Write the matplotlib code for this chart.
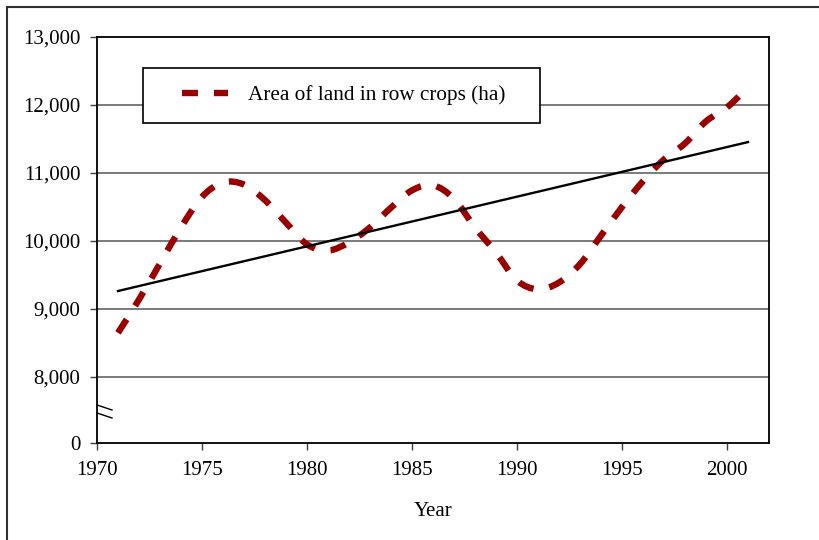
import numpy as np
import matplotlib
matplotlib.use('Agg')
import matplotlib.pyplot as plt
from matplotlib.path import Path
from matplotlib.patches import PathPatch, Rectangle
from matplotlib.lines import Line2D

# data
years = list(range(1971, 2002))
row_crops = [8650, 9140, 9670, 10200, 10650, 10860, 10830, 10600, 10270, 9950,
             9860, 9980, 10200, 10490, 10745, 10820, 10620, 10200, 9830, 9420,
             9290, 9390, 9660, 10080, 10500, 10880, 11200, 11435, 11760, 11965,
             12260]
trend_years = [1971, 2001]
trend_vals = [9265, 11455]

y_ticks = [7030, 8000, 9000, 10000, 11000, 12000, 13000]
y_labels = ['0', '8,000', '9,000', '10,000', '11,000', '12,000', '13,000']
x_ticks = [1970, 1975, 1980, 1985, 1990, 1995, 2000]

plt.rcParams['font.family'] = ['Liberation Serif', 'DejaVu Serif']
red = '#990000'
fs = 15
leg_fs = 15.3
px = leg_fs * 100 / 72


def smooth_path(xs, ys):
    # excel-like smoothed line: bezier segments through every point
    pts = np.column_stack([xs, ys]).astype(float)
    n = len(pts)
    verts = [pts[0]]
    codes = [Path.MOVETO]
    for i in range(n - 1):
        p0 = pts[i - 1] if i > 0 else pts[i]
        p1 = pts[i]
        p2 = pts[i + 1]
        p3 = pts[i + 2] if i + 2 < n else pts[i + 1]
        c1 = p1 + (p2 - p0) / 6.0
        c2 = p2 - (p3 - p1) / 6.0
        verts += [c1, c2, p2]
        codes += [Path.CURVE4] * 3
    return Path(verts, codes)


fig = plt.figure(figsize=(8.2, 5.4), dpi=100)
ax = fig.add_axes([97/820, 1-443/540, 672/820, 406/540])

for v in y_ticks[1:-1]:
    ax.axhline(v, color='#707070', lw=1.3, zorder=1)

dash = (0, (2.5, 2.5))
patch = PathPatch(smooth_path(years, row_crops), facecolor='none', edgecolor=red,
                  lw=4.6, linestyle=dash, capstyle='butt', zorder=3)
ax.add_patch(patch)
ax.plot(trend_years, trend_vals, color='black', lw=1.7, zorder=4)

ax.set_xlim(1970, 2002)
ax.set_ylim(7030, 13000)
ax.set_xticks(x_ticks)
ax.set_yticks(y_ticks)
ax.set_yticklabels(y_labels)
ax.tick_params(axis='both', direction='out', length=5, width=1, labelsize=fs, pad=8,
               color='#404040')
ax.tick_params(axis='y', pad=7)
for s in ax.spines.values():
    s.set_linewidth(1.3)
    s.set_color('black')
ax.set_xlabel('Year', fontsize=fs, labelpad=16)

# axis break marks
for y0 in (405, 413):
    ax.plot([0, 15/672], [(443-y0)/406, (443-y0-5)/406], color='black', lw=1,
            transform=ax.transAxes, clip_on=False)

# legend
handle = Line2D([], [], color=red, lw=4.6, linestyle=dash, dash_capstyle='butt')
leg = ax.legend([handle], ['Area of land in row crops (ha)'], loc='center left',
                bbox_to_anchor=(182/820, 1-95.5/540), bbox_transform=fig.transFigure,
                frameon=False, fontsize=leg_fs, borderpad=0, borderaxespad=0,
                handlelength=46/px, handletextpad=20/px)
leg.set_zorder(6)
ax.add_patch(Rectangle((143/820, 1-123/540), 397/820, 55/540, transform=fig.transFigure,
                       facecolor='white', edgecolor='black', lw=1.2, zorder=5,
                       clip_on=False))

# outer border
fig.patches.append(Rectangle((7/820, -0.1), 1.2, (533/540)+0.1, transform=fig.transFigure,
                             facecolor='none', edgecolor='#303030', lw=1.5))

fig.savefig('out.png', dpi=100)
